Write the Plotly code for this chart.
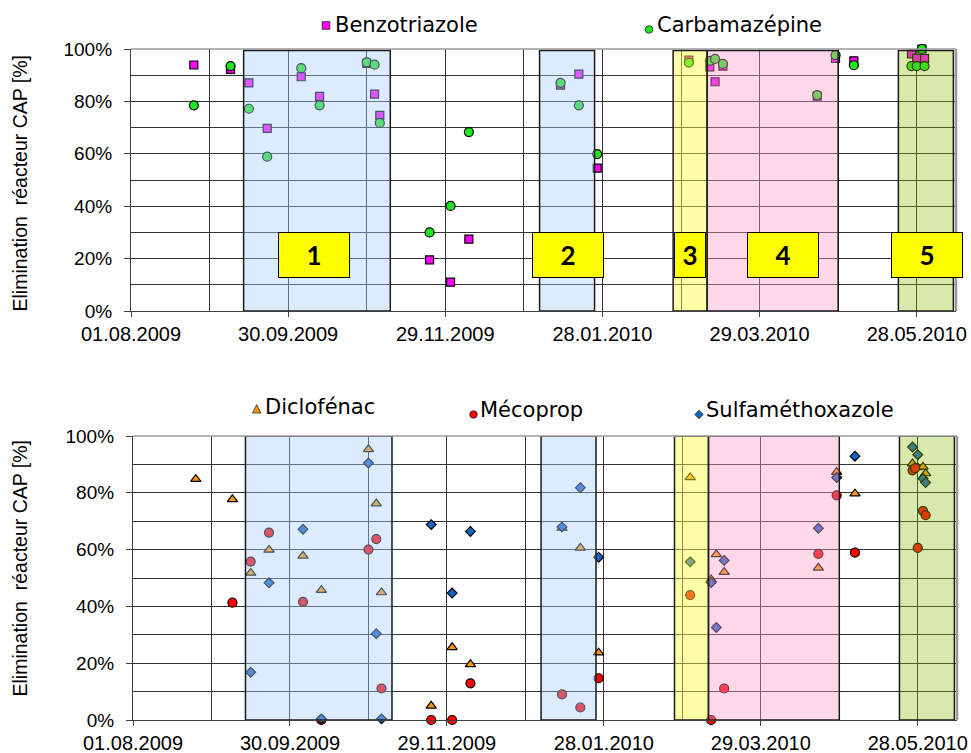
import plotly.graph_objects as go

# ---------------------------------------------------------------------------
# Removal efficiency of the PAC reactor (%), per sampling date
# ---------------------------------------------------------------------------
benzotriazole_dates = [
    "2009-08-25", "2009-09-08", "2009-09-15", "2009-09-22", "2009-10-05", "2009-10-12",
    "2009-10-30", "2009-11-02", "2009-11-04", "2009-11-23", "2009-12-01", "2009-12-08",
    "2010-01-12", "2010-01-19", "2010-01-26", "2010-03-02", "2010-03-10", "2010-03-12",
    "2010-03-15", "2010-04-20", "2010-04-27", "2010-05-04", "2010-05-26", "2010-05-28",
    "2010-05-30", "2010-05-31",
]
benzotriazole = [
    93.9, 92.2, 87.1, 69.7, 89.4, 81.9,
    94.5, 82.8, 74.7, 19.5, 11.0, 27.4,
    86.2, 90.4, 54.5, 95.8, 93.2, 87.5,
    93.5, 82.0, 96.4, 95.5, 98.1, 96.4,
    100.0, 96.4,
]

carbamazepine_dates = [
    "2009-08-25", "2009-09-08", "2009-09-15", "2009-09-22", "2009-10-05", "2009-10-12",
    "2009-10-30", "2009-11-02", "2009-11-04", "2009-11-23", "2009-12-01", "2009-12-08",
    "2010-01-12", "2010-01-19", "2010-01-26", "2010-03-02", "2010-03-10", "2010-03-12",
    "2010-03-15", "2010-04-20", "2010-04-27", "2010-05-04", "2010-05-26", "2010-05-28",
    "2010-05-30", "2010-05-31",
]
carbamazepine = [
    78.5, 93.5, 77.2, 58.9, 92.7, 78.5,
    94.9, 94.0, 71.8, 30.0, 40.1, 68.3,
    87.1, 78.5, 59.9, 94.8, 95.5, 96.2,
    94.3, 82.4, 97.7, 93.8, 93.5, 93.5,
    100.0, 93.5,
]

diclofenac_dates = [
    "2009-08-25", "2009-09-08", "2009-09-15", "2009-09-22", "2009-10-05", "2009-10-12",
    "2009-10-30", "2009-11-02", "2009-11-04", "2009-11-23", "2009-12-01", "2009-12-08",
    "2010-01-12", "2010-01-19", "2010-01-26", "2010-03-02", "2010-03-10", "2010-03-12",
    "2010-03-15", "2010-04-20", "2010-04-27", "2010-05-04", "2010-05-26", "2010-05-28",
    "2010-05-30", "2010-05-31",
]
diclofenac = [
    84.8, 77.7, 51.8, 59.9, 57.8, 45.7,
    95.3, 76.2, 44.9, 5.0, 25.6, 19.6,
    67.6, 60.6, 23.7, 85.4, 49.5, 58.3,
    52.1, 53.6, 87.3, 79.7, 90.3, 88.9,
    89.1, 86.8,
]

mecoprop_dates = [
    "2009-09-08", "2009-09-15", "2009-09-22", "2009-10-05", "2009-10-12", "2009-10-30",
    "2009-11-02", "2009-11-04", "2009-11-23", "2009-12-01", "2009-12-08", "2010-01-12",
    "2010-01-19", "2010-01-26", "2010-03-02", "2010-03-10", "2010-03-15", "2010-04-20",
    "2010-04-27", "2010-05-04", "2010-05-26", "2010-05-27", "2010-05-28", "2010-05-30",
    "2010-05-31",
]
mecoprop = [
    41.3, 55.8, 66.0, 41.6, 0.0, 60.0,
    63.7, 11.1, 0.0, 0.0, 12.9, 9.0,
    4.4, 14.7, 44.0, 0.0, 11.1, 58.5,
    79.1, 58.9, 87.9, 88.7, 60.6, 73.6,
    72.1,
]

sulfamethoxazole_dates = [
    "2009-09-15", "2009-09-22", "2009-10-05", "2009-10-12", "2009-10-30", "2009-11-02",
    "2009-11-04", "2009-11-23", "2009-12-01", "2009-12-08", "2010-01-12", "2010-01-19",
    "2010-01-26", "2010-03-02", "2010-03-10", "2010-03-12", "2010-03-15", "2010-04-20",
    "2010-04-27", "2010-05-04", "2010-05-26", "2010-05-28", "2010-05-30", "2010-05-31",
]
sulfamethoxazole = [
    16.8, 48.3, 67.2, 0.4, 90.5, 30.4,
    0.4, 68.8, 44.7, 66.4, 68.0, 81.8,
    57.3, 55.7, 48.4, 32.6, 56.2, 67.5,
    85.4, 92.9, 96.1, 93.4, 85.0, 83.6,
]

# Operating periods of the reactor (start, end, label)
period_starts = ["2009-09-13", "2010-01-04", "2010-02-24", "2010-03-09", "2010-05-21"]
period_ends = ["2009-11-08", "2010-01-25", "2010-03-09", "2010-04-28", "2010-06-11"]
period_labels = ["1", "2", "3", "4", "5"]
period_label_x = ["2009-10-10", "2010-01-15", "2010-03-02 12:00", "2010-04-07", "2010-06-01"]

x_start, x_end = "2009-08-01", "2010-06-12"
y_ticks = [0, 20, 40, 60, 80, 100]
y_tick_text = ["%d%%" % v for v in y_ticks]

# ---------------------------------------------------------------------------
# Page geometry (pixels) and helpers
# ---------------------------------------------------------------------------
W, H = 971, 753
ML, MR, MT, MB = 131, 14, 49, 33
PW, PH = W - ML - MR, H - MT - MB


def px(xp):
    return (xp - ML) / PW


def py(yp):
    return (H - MB - yp) / PH


DAY_MS = 86400000
TICK_FONT = dict(family="Liberation Sans, Arial, sans-serif", size=20, color="#000000")
LEG_FONT = dict(family="DejaVu Sans, sans-serif", size=21, color="#000000")
GRID = "#333333"

period_fills = [
    "rgba(171,207,249,0.41)",
    "rgba(171,207,249,0.41)",
    "rgba(255,255,60,0.45)",
    "rgba(255,160,202,0.40)",
    "rgba(139,185,0,0.33)",
]

fig = go.Figure()

marker_line = dict(color="#000000", width=1.2)


def add_series(dates, values, name, symbol, color, size, xa, ya):
    fig.add_trace(go.Scatter(
        x=dates, y=values, name=name, mode="markers",
        marker=dict(symbol=symbol, color=color, size=size, line=marker_line),
        xaxis=xa, yaxis=ya, cliponaxis=False, showlegend=False,
    ))


add_series(benzotriazole_dates, benzotriazole, "Benzotriazole", "square", "#FF00FF", 8, "x", "y")
add_series(carbamazepine_dates, carbamazepine, "Carbamazépine", "circle", "#22E622", 9, "x", "y")
add_series(diclofenac_dates, diclofenac, "Diclofénac", "triangle-up", "#FF9900", 9, "x2", "y2")
add_series(mecoprop_dates, mecoprop, "Mécoprop", "circle", "#FF0000", 9, "x2", "y2")
add_series(sulfamethoxazole_dates, sulfamethoxazole, "Sulfaméthoxazole", "diamond", "#1464C8", 7.5, "x2", "y2")

shapes = []
annotations = []

# shaded operating periods, drawn over the markers (translucent)
for xs, ya, top in (("x", "y", 99.4), ("x2", "y2", 100)):
    for s, e, fill in zip(period_starts, period_ends, period_fills):
        shapes.append(dict(
            type="rect", xref=xs, yref=ya, x0=s, x1=e, y0=0, y1=top,
            fillcolor=fill, line=dict(color="#1a1a1a", width=1.5), layer="above",
        ))

# upper and right frame lines of both plot areas
for xs, ya in (("x", "y"), ("x2", "y2")):
    shapes.append(dict(type="line", xref=xs + " domain", yref=ya + " domain",
                       x0=0, x1=1, y0=1, y1=1, line=dict(color="#9a9a9a", width=1.5)))
    shapes.append(dict(type="line", xref=xs + " domain", yref=ya + " domain",
                       x0=1, x1=1, y0=0, y1=1, line=dict(color="#9a9a9a", width=2.5)))

# numbered period labels
for lab, xc in zip(period_labels, period_label_x):
    annotations.append(dict(
        x=xc, y=21.5, xref="x", yref="y", text="<b>%s</b>" % lab, showarrow=False,
        font=dict(family="Lato, sans-serif", size=26, color="#000000"),
        bgcolor="#FFFF00", bordercolor="#000000", borderwidth=1, borderpad=0,
        width=30 if lab == "3" else 70, height=44, valign="middle",
    ))

# y-axis titles
for yc in (183, 568):
    annotations.append(dict(
        x=px(19.5), y=py(yc), xref="paper", yref="paper",
        text="Elimination\u00a0\u00a0réacteur CAP [%]", textangle=-90, showarrow=False,
        font=dict(family="Liberation Sans, Arial, sans-serif", size=19.5, color="#000000"),
        xanchor="center", yanchor="middle",
    ))

# legend entries: small symbol followed by the series name
legend_items = [
    ("Benzotriazole", "square", "#FF00FF", 326, 25.5, 333, 25.5),
    ("Carbamazépine", "circle", "#22E622", 649, 29.5, 655, 25.5),
    ("Diclofénac", "triangle", "#FF9900", 256.7, 409, 263, 407),
    ("Mécoprop", "circle", "#FF0000", 473.5, 414.5, 478, 410),
    ("Sulfaméthoxazole", "diamond", "#1464C8", 699, 414.5, 704, 410),
]
for name, sym, col, mx, my, tx, ty in legend_items:
    r = 3.8
    line = dict(color="#222222", width=0.8)
    if sym == "square":
        shapes.append(dict(type="rect", xref="paper", yref="paper",
                           x0=px(mx - r), x1=px(mx + r), y0=py(my + r), y1=py(my - r),
                           fillcolor=col, line=line))
    elif sym == "circle":
        shapes.append(dict(type="circle", xref="paper", yref="paper",
                           x0=px(mx - r), x1=px(mx + r), y0=py(my + r), y1=py(my - r),
                           fillcolor=col, line=line))
    elif sym == "triangle":
        path = "M %f %f L %f %f L %f %f Z" % (px(mx - 4.2), py(my + 4), px(mx + 4.2), py(my + 4),
                                               px(mx), py(my - 4.2))
        shapes.append(dict(type="path", xref="paper", yref="paper", path=path,
                           fillcolor=col, line=line))
    else:
        path = "M %f %f L %f %f L %f %f L %f %f Z" % (px(mx - 4.2), py(my), px(mx), py(my - 4.2),
                                                      px(mx + 4.2), py(my), px(mx), py(my + 4.2))
        shapes.append(dict(type="path", xref="paper", yref="paper", path=path,
                           fillcolor=col, line=line))
    annotations.append(dict(
        x=px(tx), y=py(ty), xref="paper", yref="paper", text=name, showarrow=False,
        font=LEG_FONT, xanchor="left", yanchor="middle",
    ))

xaxis_common = dict(
    type="date", range=[x_start, x_end], tickmode="linear", tick0=x_start, dtick=60 * DAY_MS,
    tickformat="%d.%m.%Y", ticks="outside", ticklen=5, tickcolor="#404040",
    showline=True, linecolor="#404040", linewidth=1.2,
    showgrid=True, gridcolor=GRID, gridwidth=1,
    minor=dict(tick0=x_start, dtick=30 * DAY_MS, showgrid=True, gridcolor=GRID, gridwidth=1),
    tickfont=TICK_FONT, zeroline=False, fixedrange=True, automargin=False,
)
yaxis_common = dict(
    range=[0, 100], tickmode="array", tickvals=y_ticks, ticktext=y_tick_text,
    ticks="outside", ticklen=6, tickcolor="#404040", ticklabelstandoff=8,
    showline=True, linecolor="#404040", linewidth=1.2,
    showgrid=True, gridcolor=GRID, gridwidth=1,
    minor=dict(dtick=10, showgrid=True, gridcolor=GRID, gridwidth=1),
    tickfont=dict(TICK_FONT, size=19), zeroline=False, fixedrange=True, automargin=False,
)

fig.update_layout(
    width=W, height=H,
    margin=dict(l=ML, r=MR, t=MT, b=MB, autoexpand=False),
    paper_bgcolor="#FFFFFF", plot_bgcolor="#FFFFFF",
    xaxis=dict(xaxis_common, domain=[0, px(956)], anchor="y"),
    yaxis=dict(yaxis_common, domain=[py(311), 1], anchor="x"),
    xaxis2=dict(xaxis_common, domain=[px(133), 1], anchor="y2"),
    yaxis2=dict(yaxis_common, domain=[0, py(436)], anchor="x2"),
    shapes=shapes, annotations=annotations, showlegend=False,
)

fig.write_html("out.html")
